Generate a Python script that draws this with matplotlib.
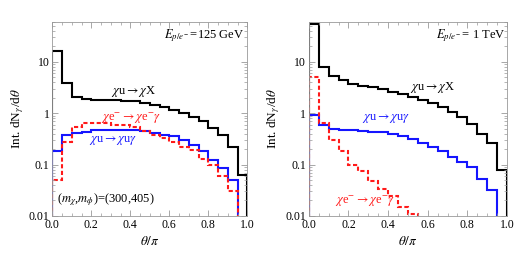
import numpy as np
import matplotlib
matplotlib.use("Agg")
import matplotlib.pyplot as plt
from matplotlib.ticker import FixedLocator, NullFormatter, LogLocator

plt.rcParams['font.family'] = ['Liberation Serif', 'DejaVu Serif']
plt.rcParams['mathtext.fontset'] = 'stix'

edges = np.linspace(0.0, 1.0, 21)

# Left panel: E = 125 GeV
left_black = [16.6, 3.8, 2.05, 1.9, 1.85, 1.8, 1.78, 1.75, 1.7, 1.6,
              1.45, 1.3, 1.15, 0.99, 0.85, 0.7, 0.52, 0.38, 0.22, 0.063]
left_blue = [0.18, 0.38, 0.42, 0.44, 0.47, 0.48, 0.48, 0.48, 0.47, 0.46,
             0.42, 0.38, 0.36, 0.30, 0.24, 0.18, 0.123, 0.085, 0.05, 0.0]
left_red = [0.05, 0.27, 0.53, 0.66, 0.66, 0.64, 0.60, 0.58, 0.53, 0.45,
            0.38, 0.33, 0.28, 0.22, 0.19, 0.126, 0.097, 0.06, 0.03, 0.0]

# Right panel: E = 1 TeV
right_black = [55, 8.1, 5.2, 4.5, 3.7, 3.4, 3.2, 2.9, 2.6, 2.4,
               2.05, 1.82, 1.57, 1.31, 1.07, 0.86, 0.62, 0.39, 0.26, 0.079]
right_blue = [0.93, 0.59, 0.49, 0.48, 0.47, 0.46, 0.44, 0.43, 0.40, 0.36,
              0.31, 0.26, 0.22, 0.18, 0.143, 0.114, 0.091, 0.052, 0.032, 0.0]
right_red = [5.0, 0.66, 0.30, 0.18, 0.10, 0.075, 0.047, 0.033, 0.024, 0.015,
             0.011, 0.008, 0.0, 0.0, 0.0, 0.0, 0.0, 0.0, 0.0, 0.0]

ylabels = ['0.01', '0.1', '1', '10']
yticks = [0.01, 0.1, 1, 10]
xticks = [0.0, 0.2, 0.4, 0.6, 0.8, 1.0]

fig = plt.figure(figsize=(5.26, 2.64), dpi=100)
axL = fig.add_axes([0.0994, 0.182, 0.3707, 0.735])
axR = fig.add_axes([0.587, 0.182, 0.377, 0.735])

frame = '#999999'
fs_tick = 8.5
fs_txt = 9
fs_lab = 9.5

def style(ax):
    ax.set_yscale('log')
    ax.set_xlim(0, 1)
    ax.set_ylim(0.01, 60)
    ax.set_yticks(yticks)
    ax.set_yticklabels(ylabels)
    ax.yaxis.set_minor_locator(LogLocator(base=10, subs=np.arange(2, 10)))
    ax.yaxis.set_minor_formatter(NullFormatter())
    ax.set_xticks(xticks)
    ax.set_xticklabels(['%.1f' % t for t in xticks])
    ax.xaxis.set_minor_locator(FixedLocator(np.arange(0, 1.001, 0.05)))
    ax.tick_params(which='both', direction='in', top=True, right=True,
                   color=frame, labelsize=fs_tick, pad=2)
    ax.tick_params(which='major', length=4, width=0.6)
    ax.tick_params(which='minor', length=2, width=0.5)
    for s in ax.spines.values():
        s.set_color(frame)
        s.set_linewidth(0.6)
    ax.set_xlabel(r'$\theta/\pi$', fontsize=fs_lab, labelpad=3)
    ax.set_ylabel(r'Int. dN$_\gamma$/d$\theta$', fontsize=fs_lab, labelpad=2)

def draw(ax, black, blue, red):
    base = 1e-5
    ax.stairs(np.maximum(black, base), edges, baseline=base, color='black', lw=1.5)
    ax.stairs(np.maximum(blue, base), edges, baseline=base, color='#1515ff', lw=1.5)
    ax.stairs(np.maximum(red, base), edges, baseline=base, color='#ff1a1a', lw=1.5,
              linestyle=(0, (2, 1.2)))

for ax in (axL, axR):
    style(ax)

draw(axL, left_black, left_blue, left_red)
draw(axR, right_black, right_blue, right_red)

axL.text(0.985, 0.93, r'$E_{p/e^-}$=125 GeV', transform=axL.transAxes,
         ha='right', va='center', fontsize=fs_txt)
axL.text(0.30, 0.64, r'$\chi$u$\rightarrow\chi$X', transform=axL.transAxes,
         ha='left', va='center', fontsize=fs_txt, color='black')
axL.text(0.25, 0.50, r'$\chi$e$^{-}\rightarrow\chi$e$^{-}\gamma$', transform=axL.transAxes,
         ha='left', va='center', fontsize=fs_txt, color='#ff1a1a')
axL.text(0.19, 0.39, r'$\chi$u$\rightarrow\chi$u$\gamma$', transform=axL.transAxes,
         ha='left', va='center', fontsize=fs_txt, color='#1515ff')
axL.text(0.025, 0.085, r'($m_\chi$,$m_\phi$)=(300,405)', transform=axL.transAxes,
         ha='left', va='center', fontsize=fs_txt)

axR.text(0.99, 0.93, r'$E_{p/e^-}$= 1 TeV', transform=axR.transAxes,
         ha='right', va='center', fontsize=fs_txt)
axR.text(0.51, 0.66, r'$\chi$u$\rightarrow\chi$X', transform=axR.transAxes,
         ha='left', va='center', fontsize=fs_txt, color='black')
axR.text(0.27, 0.50, r'$\chi$u$\rightarrow\chi$u$\gamma$', transform=axR.transAxes,
         ha='left', va='center', fontsize=fs_txt, color='#1515ff')
axR.text(0.13, 0.075, r'$\chi$e$^{-}\rightarrow\chi$e$^{-}\gamma$', transform=axR.transAxes,
         ha='left', va='center', fontsize=fs_txt, color='#ff1a1a')

fig.savefig('out.png', dpi=100)
